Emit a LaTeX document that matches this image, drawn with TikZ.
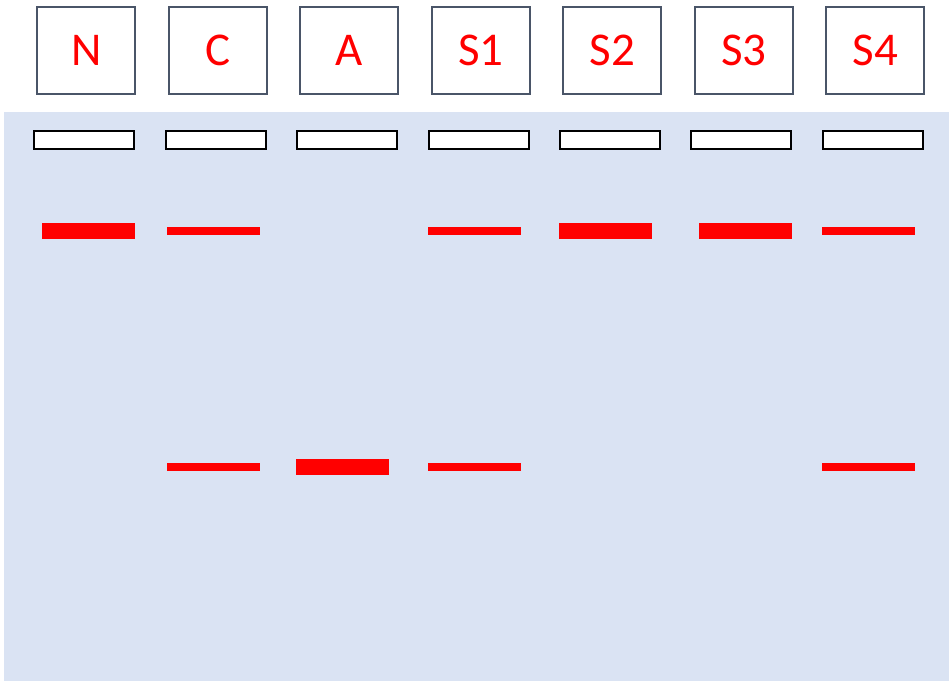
\documentclass[tikz,border=0pt]{standalone}
\usepackage{fontspec}
\setmainfont{Carlito}
\definecolor{gelblue}{HTML}{DAE3F3}
\definecolor{boxgray}{HTML}{4A5568}
\definecolor{bandred}{HTML}{FF0000}
\begin{document}
\begin{tikzpicture}[x=1pt,y=-1pt,
  labelbox/.style={draw=boxgray,line width=2pt,fill=white,minimum width=98pt,minimum height=87pt,inner sep=0pt,text=bandred,font=\fontsize{47}{50}\selectfont},
  well/.style={draw=black,line width=2pt,fill=white,minimum width=100pt,minimum height=18pt,inner sep=0pt},
  thickband/.style={fill=bandred,draw=none,minimum width=93pt,minimum height=16pt,inner sep=0pt},
  thinband/.style={fill=bandred,draw=none,minimum width=93pt,minimum height=8pt,inner sep=0pt}]
\useasboundingbox (0,0) rectangle (949,681);
\fill[white] (0,0) rectangle (949,681);
\fill[gelblue] (4,112) rectangle (949,681);
% label boxes
\node[labelbox] (lN) at (86.3,50) {N};
\node[labelbox] (lC) at (217.8,50) {C};
\node[labelbox] (lA) at (349.3,50) {A};
\node[labelbox] (lS1) at (480.8,50) {S1};
\node[labelbox] (lS2) at (612.3,50) {S2};
\node[labelbox] (lS3) at (743.8,50) {S3};
\node[labelbox] (lS4) at (875.3,50) {S4};
% wells
\node[well] (wN) at (84.3,140) {};
\node[well] (wC) at (215.7,140) {};
\node[well] (wA) at (347.1,140) {};
\node[well] (wS1) at (478.5,140) {};
\node[well] (wS2) at (609.9,140) {};
\node[well] (wS3) at (741.3,140) {};
\node[well] (wS4) at (872.5,140) {};
% upper bands
\node[thickband] (bN1) at (88.5,231.3) {};
\node[thinband] (bC1) at (213.5,231.3) {};
\node[thinband] (bS11) at (474.2,231.3) {};
\node[thickband] (bS21) at (605.5,231.3) {};
\node[thickband] (bS31) at (745.5,231.3) {};
\node[thinband] (bS41) at (868.5,231.3) {};
% lower bands
\node[thinband] (bC2) at (213.5,467) {};
\node[thickband] (bA2) at (342.6,467) {};
\node[thinband] (bS12) at (474.2,467) {};
\node[thinband] (bS42) at (868.5,467) {};
\end{tikzpicture}
\end{document}
